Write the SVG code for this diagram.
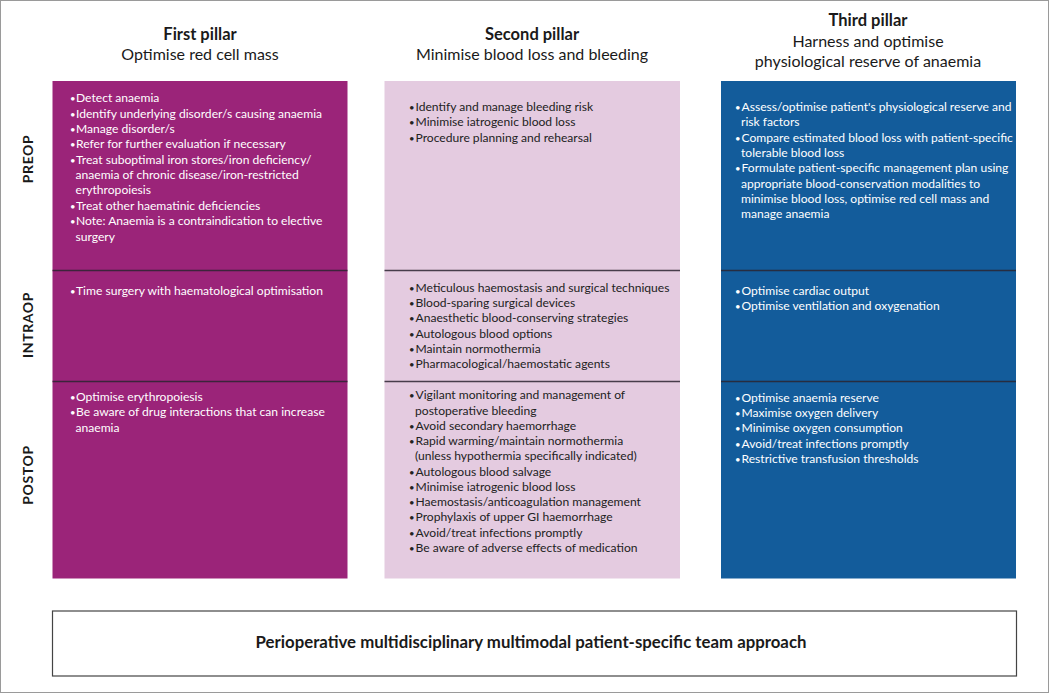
<svg xmlns="http://www.w3.org/2000/svg" width="1050" height="694" viewBox="0 0 1050 694">
<style>
.hd{font-family:Lato,"Liberation Sans",sans-serif;font-size:16px;fill:#1a1a1a;text-anchor:middle}
.hdb{font-weight:bold;font-size:16.5px}
.ft{font-size:16.8px}
.t{font-family:Lato,"Liberation Sans",sans-serif;font-size:12.1px}
.b{font-size:9.5px}
.w{fill:#ffffff}
.d{fill:#222222}
.row{font-family:Lato,"Liberation Sans",sans-serif;font-size:14px;font-weight:bold;fill:#1a1a1a;text-anchor:middle;letter-spacing:0.6px}
.div{stroke:#2b2430;stroke-width:1.6;stroke-opacity:0.85}
</style>
<rect x="0.5" y="0.5" width="1048" height="692" fill="#ffffff" stroke="#9a9a9a" stroke-width="1"/>
<g id="headers">
<text class="hd hdb" x="200" y="39.5">First pillar</text>
<text class="hd" x="200" y="60">Optimise red cell mass</text>
<text class="hd hdb" x="532" y="39.5">Second pillar</text>
<text class="hd" x="532" y="60">Minimise blood loss and bleeding</text>
<text class="hd hdb" x="868" y="25.5">Third pillar</text>
<text class="hd" x="868" y="46.5">Harness and optimise</text>
<text class="hd" x="868" y="67">physiological reserve of anaemia</text>
</g>
<g id="row-labels">
<text class="row" transform="translate(33,159) rotate(-90)">PREOP</text>
<text class="row" transform="translate(33,325) rotate(-90)">INTRAOP</text>
<text class="row" transform="translate(33,475) rotate(-90)">POSTOP</text>
</g>
<g id="pillar1">
<rect x="52.5" y="81" width="295" height="497.5" fill="#9b2479"/>
<g class="t w">
<text y="102.3"><tspan class="b" x="70">•</tspan><tspan x="76">Detect anaemia</tspan></text>
<text y="117.7"><tspan class="b" x="70">•</tspan><tspan x="76">Identify underlying disorder/s causing anaemia</tspan></text>
<text y="133"><tspan class="b" x="70">•</tspan><tspan x="76">Manage disorder/s</tspan></text>
<text y="148.4"><tspan class="b" x="70">•</tspan><tspan x="76">Refer for further evaluation if necessary</tspan></text>
<text y="163.7"><tspan class="b" x="70">•</tspan><tspan x="76">Treat suboptimal iron stores/iron deficiency/</tspan></text>
<text x="75.5" y="179">anaemia of chronic disease/iron-restricted</text>
<text x="75.5" y="194.4">erythropoiesis</text>
<text y="209.8"><tspan class="b" x="70">•</tspan><tspan x="76">Treat other haematinic deficiencies</tspan></text>
<text y="225.1"><tspan class="b" x="70">•</tspan><tspan x="76">Note: Anaemia is a contraindication to elective</tspan></text>
<text x="75.5" y="240.5">surgery</text>
<text y="294.5"><tspan class="b" x="70">•</tspan><tspan x="76">Time surgery with haematological optimisation</tspan></text>
<text y="401"><tspan class="b" x="70">•</tspan><tspan x="76">Optimise erythropoiesis</tspan></text>
<text y="416.3"><tspan class="b" x="70">•</tspan><tspan x="76">Be aware of drug interactions that can increase</tspan></text>
<text x="75.5" y="431.6">anaemia</text>
</g>
</g>
<g id="pillar2">
<rect x="384.5" y="81" width="295.5" height="497.5" fill="#e4cbe0"/>
<g class="t d">
<text y="111"><tspan class="b" x="409">•</tspan><tspan x="415.5">Identify and manage bleeding risk</tspan></text>
<text y="126.3"><tspan class="b" x="409">•</tspan><tspan x="415.5">Minimise iatrogenic blood loss</tspan></text>
<text y="141.7"><tspan class="b" x="409">•</tspan><tspan x="415.5">Procedure planning and rehearsal</tspan></text>
<text y="292"><tspan class="b" x="409">•</tspan><tspan x="415.5">Meticulous haemostasis and surgical techniques</tspan></text>
<text y="307.2"><tspan class="b" x="409">•</tspan><tspan x="415.5">Blood-sparing surgical devices</tspan></text>
<text y="322.4"><tspan class="b" x="409">•</tspan><tspan x="415.5">Anaesthetic blood-conserving strategies</tspan></text>
<text y="337.6"><tspan class="b" x="409">•</tspan><tspan x="415.5">Autologous blood options</tspan></text>
<text y="352.8"><tspan class="b" x="409">•</tspan><tspan x="415.5">Maintain normothermia</tspan></text>
<text y="368"><tspan class="b" x="409">•</tspan><tspan x="415.5">Pharmacological/haemostatic agents</tspan></text>
<text y="399.3"><tspan class="b" x="409">•</tspan><tspan x="415.5">Vigilant monitoring and management of</tspan></text>
<text x="415" y="414.5">postoperative bleeding</text>
<text y="429.8"><tspan class="b" x="409">•</tspan><tspan x="415.5">Avoid secondary haemorrhage</tspan></text>
<text y="445"><tspan class="b" x="409">•</tspan><tspan x="415.5">Rapid warming/maintain normothermia</tspan></text>
<text x="415" y="460.3">(unless hypothermia specifically indicated)</text>
<text y="475.5"><tspan class="b" x="409">•</tspan><tspan x="415.5">Autologous blood salvage</tspan></text>
<text y="490.8"><tspan class="b" x="409">•</tspan><tspan x="415.5">Minimise iatrogenic blood loss</tspan></text>
<text y="506"><tspan class="b" x="409">•</tspan><tspan x="415.5">Haemostasis/anticoagulation management</tspan></text>
<text y="521.3"><tspan class="b" x="409">•</tspan><tspan x="415.5">Prophylaxis of upper GI haemorrhage</tspan></text>
<text y="536.5"><tspan class="b" x="409">•</tspan><tspan x="415.5">Avoid/treat infections promptly</tspan></text>
<text y="551.8"><tspan class="b" x="409">•</tspan><tspan x="415.5">Be aware of adverse effects of medication</tspan></text>
</g>
</g>
<g id="pillar3">
<rect x="721" y="81" width="295" height="497.5" fill="#135c9b"/>
<g class="t w">
<text y="111"><tspan class="b" x="735">•</tspan><tspan x="741.5">Assess/optimise patient's physiological reserve and</tspan></text>
<text x="741" y="126.3">risk factors</text>
<text y="141.7"><tspan class="b" x="735">•</tspan><tspan x="741.5">Compare estimated blood loss with patient-specific</tspan></text>
<text x="741" y="157">tolerable blood loss</text>
<text y="172.4"><tspan class="b" x="735">•</tspan><tspan x="741.5">Formulate patient-specific management plan using</tspan></text>
<text x="741" y="187.7">appropriate blood-conservation modalities to</text>
<text x="741" y="203">minimise blood loss, optimise red cell mass and</text>
<text x="741" y="218.4">manage anaemia</text>
<text y="294.5"><tspan class="b" x="735">•</tspan><tspan x="741.5">Optimise cardiac output</tspan></text>
<text y="309.8"><tspan class="b" x="735">•</tspan><tspan x="741.5">Optimise ventilation and oxygenation</tspan></text>
<text y="401.7"><tspan class="b" x="735">•</tspan><tspan x="741.5">Optimise anaemia reserve</tspan></text>
<text y="417"><tspan class="b" x="735">•</tspan><tspan x="741.5">Maximise oxygen delivery</tspan></text>
<text y="432.3"><tspan class="b" x="735">•</tspan><tspan x="741.5">Minimise oxygen consumption</tspan></text>
<text y="447.6"><tspan class="b" x="735">•</tspan><tspan x="741.5">Avoid/treat infections promptly</tspan></text>
<text y="462.9"><tspan class="b" x="735">•</tspan><tspan x="741.5">Restrictive transfusion thresholds</tspan></text>
</g>
</g>
<g id="dividers">
<line class="div" x1="52.5" y1="270.5" x2="347.5" y2="270.5"/>
<line class="div" x1="52.5" y1="381.5" x2="347.5" y2="381.5"/>
<line class="div" x1="384.5" y1="270.5" x2="680" y2="270.5"/>
<line class="div" x1="384.5" y1="381.5" x2="680" y2="381.5"/>
<line class="div" x1="721" y1="270.5" x2="1016" y2="270.5"/>
<line class="div" x1="721" y1="381.5" x2="1016" y2="381.5"/>
</g>
<g id="team-approach">
<rect x="52.5" y="611" width="964" height="65" fill="#ffffff" stroke="#444444" stroke-width="1.2"/>
<text class="hd hdb ft" x="531" y="647.5">Perioperative multidisciplinary multimodal patient-specific team approach</text>
</g>
</svg>
